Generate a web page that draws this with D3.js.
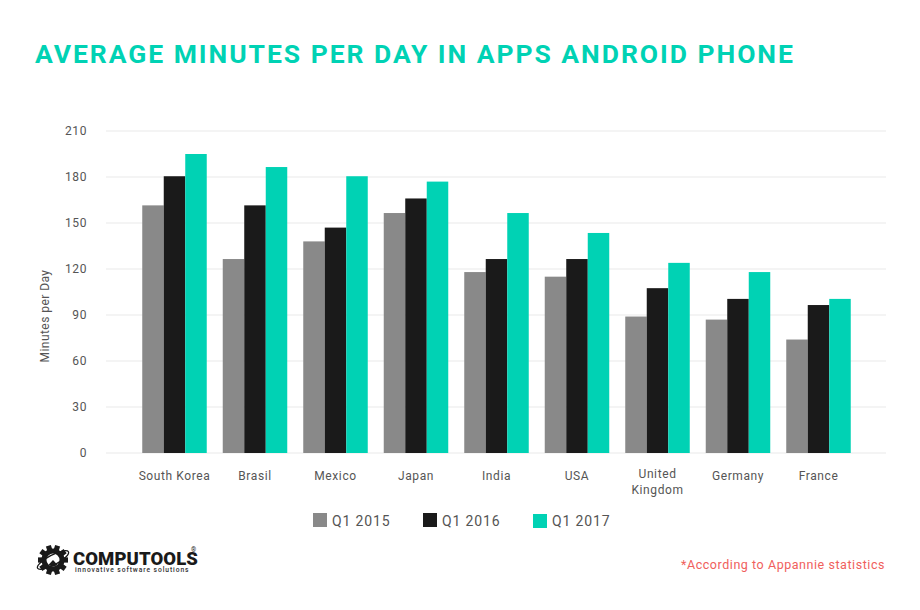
<!DOCTYPE html>
<html><head><meta charset="utf-8">
<script src="https://cdn.jsdelivr.net/npm/d3@7"></script>
<style>html,body{margin:0;padding:0;background:#fff}svg{display:block}text{font-family:Roboto,sans-serif}</style>
</head><body><svg id="c" width="920" height="610"></svg>
<script>
const categories=["South Korea","Brasil","Mexico","Japan","India","USA","United Kingdom","Germany","France"];
const seriesNames=["Q1 2015","Q1 2016","Q1 2017"];
const q2015=[161.5,126.5,138,156.5,118,115,89,87,74];
const q2016=[180.5,161.5,147,166,126.5,126.5,107.5,100.5,96.5];
const q2017=[195,186.5,180.5,177,156.5,143.5,124,118,100.5];
const yTicks=[0,30,60,90,120,150,180,210];
const colors=["#898989","#1a1a1a","#00d2b4"];
const seriesValues=[q2015,q2016,q2017];

const svg=d3.select("#c");
svg.append("rect").attr("width",920).attr("height",610).attr("fill","#fff");
svg.append("text").attr("x",35).attr("y",63).attr("fill","#00d2b4")
  .attr("font-size",26.5).attr("font-weight",700).attr("letter-spacing",1.95).text("AVERAGE MINUTES PER DAY IN APPS ANDROID PHONE");

const y=d3.scaleLinear().domain([0,210]).range([453,131]);
const x0=d3.scaleBand().domain(categories).range([134.25,858.75]).paddingInner(0.2).paddingOuter(0.1);
x0.padding(0);
const groupInset=8;
const x1=d3.scaleBand().domain(d3.range(3)).range([groupInset,x0.bandwidth()-groupInset]);

const yAxis=d3.axisLeft(y).tickValues(yTicks).tickSize(0).tickPadding(0);
const gy=svg.append("g").attr("transform","translate(87,0)").call(yAxis);
gy.select(".domain").remove();
gy.selectAll("text").attr("font-size",12).attr("fill","#555").attr("letter-spacing",0.6).attr("font-family","Roboto,sans-serif");

svg.append("g").selectAll("line").data(yTicks).join("line")
  .attr("x1",106).attr("x2",886).attr("y1",d=>y(d)).attr("y2",d=>y(d))
  .attr("stroke","#f4f4f4").attr("stroke-width",2);

const groups=svg.append("g").selectAll("g").data(categories).join("g")
  .attr("transform",d=>`translate(${x0(d)},0)`);
groups.selectAll("rect").data((d,i)=>seriesValues.map((s,k)=>({k,v:s[i]}))).join("rect")
  .attr("x",d=>x1(d.k)).attr("width",x1.bandwidth())
  .attr("y",d=>y(d.v)).attr("height",d=>y(0)-y(d.v)).attr("fill",d=>colors[d.k]);

const labels=svg.append("g").selectAll("text").data(categories).join("text")
  .attr("text-anchor","middle").attr("font-size",12).attr("fill","#555").attr("letter-spacing",0.6)
  .attr("transform",d=>`translate(${x0(d)+x0.bandwidth()/2},480)`);
labels.each(function(d){
  const t=d3.select(this);
  const parts=d==="United Kingdom"?["United","Kingdom"]:[d];
  const yy=d==="United Kingdom"?-2:0;
  parts.forEach((p,i)=>t.append("tspan").attr("x",0).attr("y",yy+i*16).text(p));
});

svg.append("text").attr("transform","translate(49,316) rotate(-90)").attr("text-anchor","middle")
  .attr("font-size",12).attr("fill","#555").attr("letter-spacing",0.45).text("Minutes per Day");

const legendX=d3.scalePoint().domain(seriesNames).range([313,533]);
const leg=svg.append("g").selectAll("g").data(seriesNames).join("g")
  .attr("transform",d=>`translate(${legendX(d)},0)`);
leg.append("rect").attr("y",(d,i)=>i===2?514:513).attr("width",14).attr("height",14).attr("fill",(d,i)=>colors[i]);
leg.append("text").attr("x",19).attr("y",526).attr("font-size",14).attr("letter-spacing",0.85).attr("fill","#555").text(d=>d);

svg.append("text").attr("x",885).attr("y",569).attr("text-anchor","end").attr("font-size",12.5)
  .attr("letter-spacing",0.55).attr("fill","#f0605c").text("*According to Appannie statistics");

// logo
const logo=svg.append("g");
const gear=logo.append("g").attr("transform","translate(53,560)");
const teeth=d3.range(10);
gear.selectAll("rect").data(teeth).join("rect").attr("x",-2.6).attr("y",-15).attr("width",5.2).attr("height",5)
  .attr("fill","#1a1a1a").attr("transform",d=>`rotate(${d*36+18})`);
gear.append("path").attr("d",d3.arc()({innerRadius:6.5,outerRadius:11.5,startAngle:0,endAngle:2*Math.PI})).attr("fill","#1a1a1a");
gear.append("path").attr("d",d3.arc()({innerRadius:0,outerRadius:6.5,startAngle:2.4,endAngle:3.9})).attr("fill","#1a1a1a");
gear.append("ellipse").attr("rx",17.5).attr("ry",5).attr("fill","none").attr("stroke","#1a1a1a").attr("stroke-width",1.3).attr("transform","rotate(-28)");
logo.append("text").attr("x",73).attr("y",565).attr("font-size",18.5).attr("font-weight",900).attr("fill","#1a1a1a").attr("letter-spacing",0.1).text("COMPUTOOLS");
logo.append("text").attr("x",191).attr("y",552).attr("font-size",6.5).attr("fill","#1a1a1a").text("®");
logo.append("text").attr("x",75).attr("y",572).attr("font-size",6.7).attr("font-weight",500).attr("fill","#333").attr("letter-spacing",0.92).text("innovative software solutions");
</script></body></html>
